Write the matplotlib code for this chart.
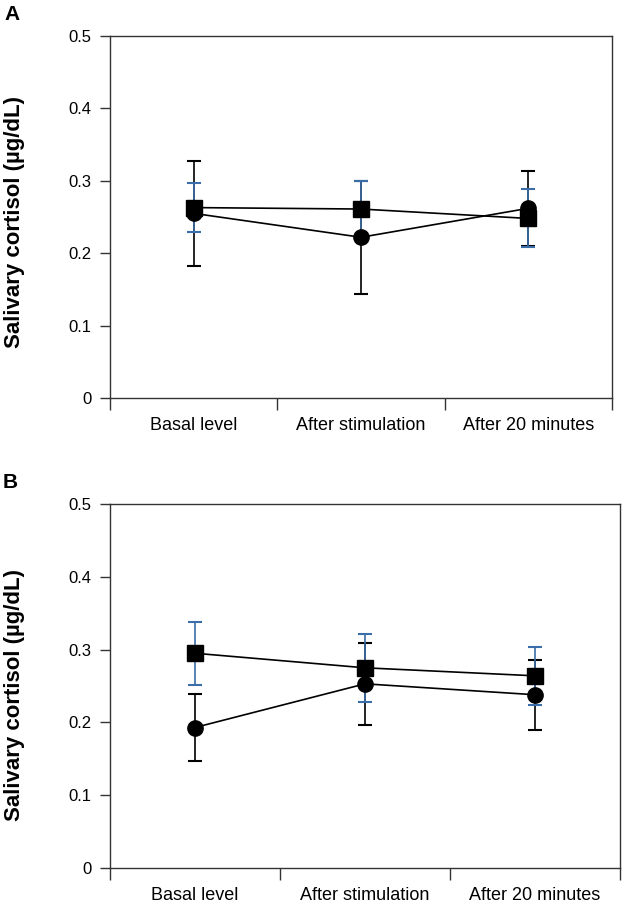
import numpy as np
import matplotlib
matplotlib.use('Agg')
import matplotlib.pyplot as plt
from matplotlib.ticker import FixedLocator

plt.rcParams['font.family'] = ['Liberation Sans', 'DejaVu Sans']

categories = ['Basal level', 'After stimulation', 'After 20 minutes']
yticklabels = ['0', '0.1', '0.2', '0.3', '0.4', '0.5']

# panel A
a_circle = [0.255, 0.222, 0.262]
a_circle_err = [0.072, 0.078, 0.052]
a_square = [0.263, 0.261, 0.248]
a_square_err = [0.034, 0.039, 0.040]

# panel B
b_circle = [0.193, 0.253, 0.238]
b_circle_err = [0.046, 0.056, 0.048]
b_square = [0.295, 0.275, 0.264]
b_square_err = [0.043, 0.047, 0.040]

blue = '#3a6ea8'
framecol = '#333333'


def draw_panel(ax, circ, circ_err, sq, sq_err, letter):
    x = np.arange(1, len(categories) + 1)
    ax.errorbar(x, circ, yerr=circ_err, fmt='none', ecolor='black',
                elinewidth=1.2, capsize=5, capthick=1.5, zorder=2)
    ax.errorbar(x, sq, yerr=sq_err, fmt='none', ecolor=blue,
                elinewidth=1.2, capsize=5, capthick=1.5, zorder=3)
    ax.plot(x, circ, '-o', color='black', lw=1.2, ms=11, zorder=4)
    ax.plot(x, sq, '-s', color='black', lw=1.2, ms=12, zorder=5)

    ax.set_xlim(0.5, len(categories) + 0.5)
    ax.set_ylim(0, 0.5)
    ax.set_xticks(x)
    ax.set_xticklabels(categories, fontsize=13)
    ax.xaxis.set_minor_locator(FixedLocator(np.arange(0.5, len(categories) + 1, 1)))
    ax.tick_params(axis='x', which='major', length=0, pad=14)
    ax.tick_params(axis='x', which='minor', length=8.5, width=1, color=framecol, direction='out')
    ax.set_yticks(np.arange(0, 0.51, 0.1))
    ax.set_yticklabels(yticklabels, fontsize=12)
    ax.tick_params(axis='y', length=7.5, width=1, color=framecol, direction='out', pad=6)
    for s in ax.spines.values():
        s.set_color(framecol)
        s.set_linewidth(1)
    ax.set_ylabel('Salivary cortisol (µg/dL)', fontsize=16, fontweight='bold')
    ax.text(-0.21, 1.06, letter, transform=ax.transAxes, fontsize=15,
            fontweight='bold', ha='left', va='center')


fig = plt.figure(figsize=(6.26, 9.07), dpi=100)
axA = fig.add_axes([110/626, 0.5612, 502/626, 0.3991])
axB = fig.add_axes([110/626, 0.0430, 510/626, 0.4013])

draw_panel(axA, a_circle, a_circle_err, a_square, a_square_err, 'A')
draw_panel(axB, b_circle, b_circle_err, b_square, b_square_err, 'B')
axA.yaxis.set_label_coords(-0.17, 0.485)
axB.yaxis.set_label_coords(-0.167, 0.475)

fig.savefig('out.png', dpi=100)
